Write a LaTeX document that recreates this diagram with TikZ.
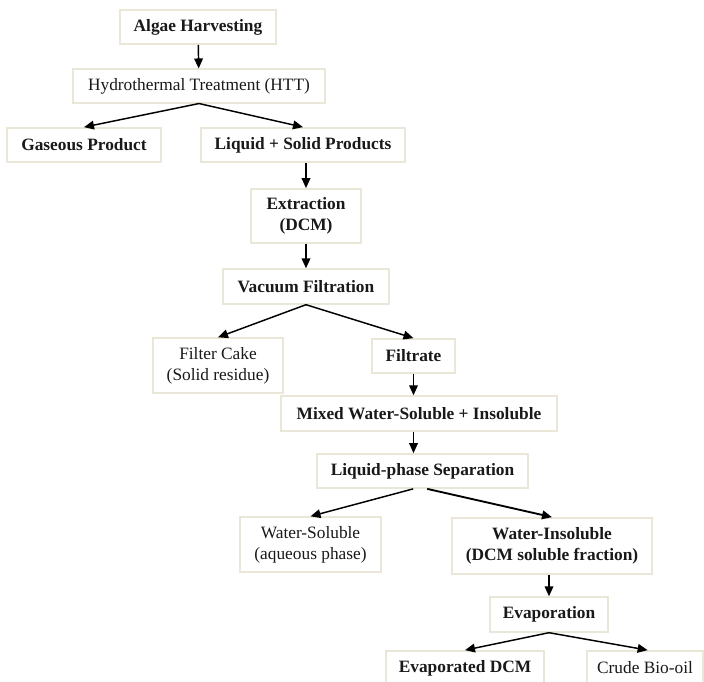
\documentclass[tikz,border=0pt]{standalone}
\usepackage{fontspec}
\setmainfont{Liberation Serif}
\usepackage{tikz}
\usetikzlibrary{arrows.meta}
\usepackage{xcolor}
\definecolor{boxline}{RGB}{234,230,216}
\definecolor{txt}{RGB}{25,25,25}

\begin{document}
\begin{tikzpicture}[x=0.75pt,y=-0.75pt,
  box/.style={draw=boxline,line width=1.3pt,fill=white,align=center,inner sep=0pt,text=txt,font=\fontsize{13}{15.6}\selectfont},
  boldbox/.style={box,font=\fontsize{13}{15.6}\selectfont\bfseries},
  flow/.style={-{Triangle[length=7.5pt,width=6.5pt]},line width=1.1pt}]
\clip (0,0) rectangle (704,682);
\fill[white] (0,0) rectangle (704,682);
\node[boldbox,minimum width=117pt,minimum height=25.5pt] (algae) at (198,27) {Algae Harvesting};
\node[box,minimum width=189pt,minimum height=25pt] (htt) at (199,86) {Hydrothermal Treatment (HTT)};
\node[boldbox,minimum width=115pt,minimum height=25.5pt] (gas) at (84,145) {Gaseous Product};
\node[boldbox,minimum width=153pt,minimum height=25.5pt] (liq) at (303,145) {Liquid + Solid Products};
\node[boldbox,minimum width=82pt,minimum height=40.5pt] (extr) at (306,216) {Extraction\\(DCM)};
\node[boldbox,minimum width=124pt,minimum height=26pt] (vac) at (306,286.5) {Vacuum Filtration};
\node[box,minimum width=97.5pt,minimum height=41pt] (cake) at (218,365.5) {Filter Cake\\(Solid residue)};
\node[boldbox,minimum width=62pt,minimum height=25.5pt] (filtrate) at (413.5,356) {Filtrate};
\node[boldbox,minimum width=207pt,minimum height=26pt] (mixed) at (419,413.5) {Mixed Water-Soluble + Insoluble};
\node[boldbox,minimum width=158pt,minimum height=25.5pt] (lps) at (422.5,471) {Liquid-phase Separation};
\node[box,minimum width=106pt,minimum height=41pt] (wsol) at (310.5,544.5) {Water-Soluble\\(aqueous phase)};
\node[boldbox,minimum width=150pt,minimum height=42pt] (winsol) at (552,546) {Water-Insoluble\\(DCM soluble fraction)};
\node[boldbox,minimum width=88.5pt,minimum height=26pt] (evap) at (549,614.5) {Evaporation};
\node[boldbox,minimum width=118pt,minimum height=25.5pt] (evdcm) at (465,668) {Evaporated DCM};
\node[box,minimum width=87pt,minimum height=25.5pt] (crude) at (645,668) {Crude Bio-oil};
\draw[flow] (algae) -- (htt);
\draw[flow] (htt.south) -- (gas.north);
\draw[flow] (htt.south) -- (liq.north);
\draw[flow] (liq.south -| extr.north) -- (extr.north);
\draw[flow] (extr) -- (vac);
\draw[flow] (vac.south) -- (cake.north);
\draw[flow] (vac.south) -- (filtrate.north);
\draw[flow] (filtrate) -- (filtrate |- mixed.north);
\draw[flow] (filtrate |- mixed.south) -- (filtrate |- lps.north);
\draw[flow] ([xshift=-7pt]lps.south) -- (wsol.north);
\draw[flow,line width=1.4pt] ([xshift=3.5pt]lps.south) -- (winsol.north);
\draw[flow] (winsol.south -| evap.north) -- (evap.north);
\draw[flow] (evap.south) -- (evdcm.north);
\draw[flow] (evap.south) -- ([xshift=2pt]crude.north);
\end{tikzpicture}
\end{document}
